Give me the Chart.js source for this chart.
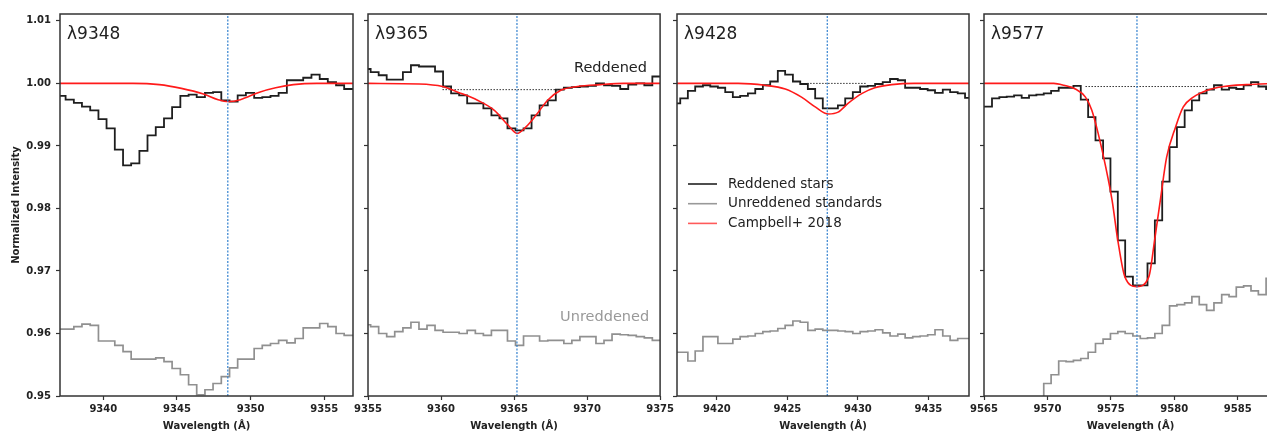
<!DOCTYPE html>
<html>
<head>
<meta charset="utf-8">
<script src="https://cdn.jsdelivr.net/npm/chart.js@4.4.1/dist/chart.umd.min.js"></script>
<style>
  html, body { margin: 0; padding: 0; background: #fff; overflow: hidden; }
  #wrap { position: relative; width: 1267px; height: 433px; overflow: hidden; }
  canvas { position: absolute; top: 0; }
</style>
</head>
<body>
<div id="wrap">
  <canvas id="p1" width="369" height="433" style="left:0px"></canvas>
  <canvas id="p2" width="327" height="433" style="left:350px"></canvas>
  <canvas id="p3" width="326" height="433" style="left:659px"></canvas>
  <canvas id="p4" width="327" height="433" style="left:966px"></canvas>
</div>
<script>
// ---- data ----
var yTicks = [0.95, 0.96, 0.97, 0.98, 0.99, 1.00, 1.01];
var legendLabels = ['Reddened stars', 'Unreddened standards', 'Campbell+ 2018'];

// λ9348
var wl1 = [9337.06, 9337.44, 9338.00, 9338.55, 9339.11, 9339.67, 9340.22, 9340.78, 9341.34, 9341.89,
  9342.45, 9343.00, 9343.56, 9344.12, 9344.67, 9345.23, 9345.79, 9346.34, 9346.90, 9347.45,
  9348.01, 9348.57, 9349.12, 9349.68, 9350.24, 9350.79, 9351.35, 9351.90, 9352.46, 9353.02,
  9353.57, 9354.13, 9354.69, 9355.24, 9355.80, 9356.35, 9356.95];
var red1 = [0.9980, 0.9974, 0.9969, 0.9963, 0.9957, 0.9943, 0.9928, 0.9894, 0.9869, 0.9872,
  0.9892, 0.9917, 0.9930, 0.9944, 0.9962, 0.9980, 0.9982, 0.9978, 0.9985, 0.9986,
  0.9973, 0.9971, 0.9981, 0.9985, 0.9977, 0.9978, 0.9980, 0.9985, 1.0005, 1.0005,
  1.0009, 1.0014, 1.0007, 1.0002, 0.9997, 0.9991];
var std1 = [0.9607, 0.9607, 0.9611, 0.9615, 0.9613, 0.9588, 0.9588, 0.9581, 0.9571, 0.9559,
  0.9559, 0.9559, 0.9561, 0.9555, 0.9544, 0.9534, 0.9518, 0.9502, 0.9510, 0.9520,
  0.9531, 0.9545, 0.9559, 0.9559, 0.9576, 0.9581, 0.9584, 0.9589, 0.9585, 0.9592,
  0.9609, 0.9609, 0.9616, 0.9611, 0.9600, 0.9597];
var fitX1 = [9337.06, 9342.0, 9343.8, 9345.3, 9346.8, 9347.8, 9348.5, 9349.3, 9350.6, 9351.7, 9352.9, 9354.5, 9356.95];
var fitY1 = [1.0, 1.0, 0.9998, 0.9992, 0.9983, 0.9974, 0.9971, 0.9974, 0.9986, 0.9993, 0.9998, 1.0, 1.0];
var xTicks1 = [9340, 9345, 9350, 9355];

// λ9365
var wl2 = [9355.00, 9355.18, 9355.73, 9356.28, 9356.83, 9357.39, 9357.94, 9358.49, 9359.04, 9359.59,
  9360.14, 9360.69, 9361.24, 9361.79, 9362.35, 9362.90, 9363.45, 9364.00, 9364.55, 9365.10,
  9365.65, 9366.20, 9366.75, 9367.31, 9367.86, 9368.41, 9368.96, 9369.51, 9370.06, 9370.61,
  9371.16, 9371.71, 9372.27, 9372.82, 9373.37, 9373.92, 9374.47, 9375.00];
var red2 = [1.0023, 1.0018, 1.0013, 1.0006, 1.0006, 1.0018, 1.0029, 1.0027, 1.0027, 1.0019,
  0.9995, 0.9984, 0.9981, 0.9968, 0.9968, 0.9960, 0.9949, 0.9944, 0.9928, 0.9925,
  0.9928, 0.9949, 0.9965, 0.9973, 0.9990, 0.9993, 0.9994, 0.9995, 0.9996, 1.0000,
  0.9997, 0.9996, 0.9991, 0.9998, 1.0000, 0.9997, 1.0011];
var std2 = [0.9614, 0.9611, 0.9600, 0.9595, 0.9603, 0.9609, 0.9618, 0.9607, 0.9613, 0.9605,
  0.9602, 0.9602, 0.9600, 0.9605, 0.9600, 0.9597, 0.9605, 0.9605, 0.9588, 0.9581,
  0.9596, 0.9596, 0.9588, 0.9589, 0.9589, 0.9584, 0.9589, 0.9595, 0.9595, 0.9584,
  0.9589, 0.9599, 0.9598, 0.9597, 0.9595, 0.9593, 0.9589];
var fitX2 = [9355, 9358.5, 9360.1, 9361.15, 9362.5, 9363.65, 9364.6, 9365.2, 9365.8, 9366.5, 9367.3, 9368.2, 9369.35, 9370.9, 9372.5, 9375];
var fitY2 = [1.0, 0.9999, 0.9995, 0.9986, 0.9973, 0.9957, 0.9933, 0.9920, 0.9930, 0.9949, 0.9973, 0.9989, 0.9995, 0.9998, 1.0, 1.0];
var xTicks2 = [9355, 9360, 9365, 9370, 9375];

// λ9428
var wl3 = [9417.17, 9417.40, 9417.94, 9418.46, 9419.01, 9419.53, 9420.07, 9420.59, 9421.13, 9421.65,
  9422.20, 9422.72, 9423.26, 9423.78, 9424.32, 9424.84, 9425.39, 9425.91, 9426.45, 9426.97,
  9427.51, 9428.03, 9428.58, 9429.10, 9429.64, 9430.16, 9430.70, 9431.22, 9431.76, 9432.28,
  9432.83, 9433.35, 9433.89, 9434.41, 9434.95, 9435.47, 9436.02, 9436.54, 9437.08, 9437.60, 9437.88];
var red3 = [0.9968, 0.9976, 0.9988, 0.9995, 0.9997, 0.9995, 0.9993, 0.9986, 0.9978, 0.9980,
  0.9984, 0.9991, 0.9997, 1.0003, 1.0020, 1.0014, 1.0003, 0.9999, 0.9991, 0.9976,
  0.9960, 0.9960, 0.9965, 0.9976, 0.9986, 0.9995, 0.9996, 0.9999, 1.0002, 1.0007,
  1.0005, 0.9993, 0.9993, 0.9991, 0.9989, 0.9985, 0.9990, 0.9986, 0.9984, 0.9977];
var std3 = [0.9570, 0.9570, 0.9556, 0.9572, 0.9595, 0.9595, 0.9584, 0.9584, 0.9591, 0.9595,
  0.9596, 0.9600, 0.9603, 0.9604, 0.9608, 0.9613, 0.9620, 0.9618, 0.9605, 0.9607,
  0.9605, 0.9605, 0.9604, 0.9603, 0.9600, 0.9603, 0.9604, 0.9606, 0.9601, 0.9596,
  0.9599, 0.9593, 0.9595, 0.9596, 0.9598, 0.9606, 0.9596, 0.9589, 0.9592, 0.9592];
var fitX3 = [9417.17, 9421.5, 9423.4, 9424.85, 9426.0, 9427.0, 9427.9, 9428.6, 9429.3, 9430.3, 9431.2, 9432.4, 9434, 9437.88];
var fitY3 = [1.0, 1.0, 0.9997, 0.9991, 0.9978, 0.9962, 0.9951, 0.9954, 0.9968, 0.9984, 0.9993, 0.9998, 1.0, 1.0];
var xTicks3 = [9420, 9425, 9430, 9435];

// λ9577
var wl4 = [9565.00, 9565.63, 9566.21, 9566.79, 9567.37, 9567.97, 9568.55, 9569.13, 9569.71, 9570.29,
  9570.89, 9571.47, 9572.05, 9572.63, 9573.21, 9573.79, 9574.39, 9574.97, 9575.55, 9576.13,
  9576.74, 9577.32, 9577.89, 9578.47, 9579.05, 9579.63, 9580.21, 9580.82, 9581.39, 9581.97,
  9582.55, 9583.13, 9583.74, 9584.32, 9584.89, 9585.47, 9586.05, 9586.63, 9587.24, 9588.10];
var red4 = [0.9963, 0.9976, 0.9978, 0.9979, 0.9981, 0.9977, 0.9981, 0.9982, 0.9984, 0.9988,
  0.9993, 0.9993, 0.9996, 0.9974, 0.9946, 0.9909, 0.9880, 0.9827, 0.9749, 0.9691,
  0.9677, 0.9677, 0.9712, 0.9781, 0.9843, 0.9898, 0.9930, 0.9957, 0.9973, 0.9984,
  0.9990, 0.9997, 0.9990, 0.9993, 0.9991, 0.9997, 1.0002, 0.9995, 0.9991];
var std4 = [null, null, null, null, null, null, null, 0.9480, 0.9520, 0.9534,
  0.9556, 0.9555, 0.9557, 0.9560, 0.9570, 0.9584, 0.9591, 0.9600, 0.9603, 0.9600,
  0.9596, 0.9592, 0.9593, 0.9600, 0.9613, 0.9644, 0.9646, 0.9649, 0.9659, 0.9646,
  0.9637, 0.9649, 0.9662, 0.9659, 0.9674, 0.9676, 0.9668, 0.9662, 0.9688];
var fitX4 = [9565, 9570.5, 9571.3, 9572.2, 9573.0, 9573.5, 9574.0, 9574.6, 9575.1, 9575.55, 9576.1, 9577.05,
  9578.0, 9578.45, 9578.9, 9579.4, 9580.1, 9580.7, 9581.5, 9582.6, 9583.9, 9585.7, 9588.1];
var fitY4 = [1.0, 1.0, 0.9997, 0.9991, 0.9978, 0.9957, 0.9920, 0.9866, 0.9813, 0.9749, 0.9691, 0.9675,
  0.9691, 0.9749, 0.9813, 0.9882, 0.9930, 0.9962, 0.9978, 0.9989, 0.9995, 0.9998, 1.0];
var xTicks4 = [9565, 9570, 9575, 9580, 9585];

// ---- helpers ----
function steps(edges, vals) {
  return edges.map(function (x, i) { return { x: x, y: vals[Math.min(i, vals.length - 1)] }; });
}
function pairs(xs, ys) {
  return xs.map(function (x, i) { return { x: x, y: ys[i] }; });
}

var tickFont = { family: 'DejaVu Sans', size: 10, weight: 'bold' };

var panelDecor = {
  id: 'panelDecor',
  afterDraw: function (chart, args, o) {
    var ctx = chart.ctx, a = chart.chartArea, x = chart.scales.x, y = chart.scales.y;
    ctx.save();
    ctx.strokeStyle = '#333';
    ctx.lineWidth = 1.5;
    ctx.strokeRect(a.left, a.top, a.right - a.left, a.bottom - a.top);

    ctx.fillStyle = '#222';
    ctx.font = '17px "DejaVu Sans"';
    ctx.textAlign = 'left';
    ctx.textBaseline = 'alphabetic';
    ctx.fillText(o.label, a.left + 7, a.top + 25);

    (o.notes || []).forEach(function (n) {
      ctx.fillStyle = n.color;
      ctx.font = '14.5px "DejaVu Sans"';
      ctx.textAlign = 'right';
      ctx.fillText(n.text, x.getPixelForValue(n.x), y.getPixelForValue(n.y));
    });

    if (o.legend) {
      var cols = ['#222', '#999', '#ff5a5a'];
      ctx.font = '13.5px "DejaVu Sans"';
      ctx.textAlign = 'left';
      ctx.textBaseline = 'middle';
      legendLabels.forEach(function (t, i) {
        var ly = a.top + 170 + i * 19.7;
        ctx.strokeStyle = cols[i];
        ctx.lineWidth = 1.6;
        ctx.beginPath();
        ctx.moveTo(a.left + 11, ly);
        ctx.lineTo(a.left + 40, ly);
        ctx.stroke();
        ctx.fillStyle = '#222';
        ctx.fillText(t, a.left + 51, ly);
      });
    }
    ctx.restore();
  }
};

function makePanel(id, p) {
  var datasets = [
    { data: steps(p.wl, p.std), stepped: true, borderColor: '#909090', borderWidth: 1.7, pointRadius: 0, order: 4 },
    { data: steps(p.wl, p.red), stepped: true, borderColor: '#1e1e1e', borderWidth: 1.8, pointRadius: 0, order: 3 },
    { data: pairs(p.fitX, p.fitY), borderColor: '#ff1a1a', borderWidth: 1.6, pointRadius: 0,
      cubicInterpolationMode: 'monotone', order: 1 },
    { data: [{ x: p.center, y: 0.95 }, { x: p.center, y: 1.0111 }], borderColor: 'rgba(45,125,205,0.9)',
      borderWidth: 1.3, borderDash: [2, 1.5], pointRadius: 0, order: 0 }
  ];
  if (p.contX) {
    datasets.push({ data: pairs(p.contX, p.contY), borderColor: '#333', borderWidth: 1,
      borderDash: [1.5, 1.5], pointRadius: 0, order: 2 });
  }
  return new Chart(document.getElementById(id), {
    type: 'line',
    data: { datasets: datasets },
    options: {
      responsive: false,
      animation: false,
      devicePixelRatio: 1,
      layout: { padding: { top: 14, right: 16, left: 0, bottom: 0 } },
      plugins: {
        legend: { display: false },
        tooltip: { enabled: false },
        panelDecor: { label: p.label, notes: p.notes || [], legend: !!p.legend }
      },
      scales: {
        x: {
          type: 'linear', min: p.wl[0], max: p.wl[p.wl.length - 1],
          afterBuildTicks: function (s) { s.ticks = p.xTicks.map(function (v) { return { value: v }; }); },
          afterFit: function (s) { s.height = 37; },
          grid: { drawOnChartArea: false, tickLength: 4, tickColor: '#333', tickWidth: 1.2 },
          border: { display: false },
          ticks: { font: tickFont, color: '#222', padding: 3, maxRotation: 0, autoSkip: false,
            callback: function (v) { return String(v); } },
          title: { display: true, text: 'Wavelength (Å)', font: tickFont, color: '#222',
            padding: { top: 0, bottom: 1 } }
        },
        y: {
          min: 0.95, max: 1.0111,
          afterBuildTicks: function (s) { s.ticks = yTicks.map(function (v) { return { value: v }; }); },
          afterFit: function (s) { s.width = p.yWidth; },
          grid: { drawOnChartArea: false, tickLength: 4, tickColor: '#333', tickWidth: 1.2 },
          border: { display: false },
          ticks: { display: p.yLabels, font: tickFont, color: '#222', padding: 5,
            callback: function (v) { return v.toFixed(2); } },
          title: { display: p.yLabels, text: 'Normalized Intensity', font: tickFont, color: '#222',
            padding: { top: 10, bottom: 0 } }
        }
      }
    },
    plugins: [panelDecor]
  });
}

makePanel('p1', { wl: wl1, red: red1, std: std1, fitX: fitX1, fitY: fitY1, xTicks: xTicks1,
  center: 9348.45, label: 'λ9348', yWidth: 60, yLabels: true });
makePanel('p2', { wl: wl2, red: red2, std: std2, fitX: fitX2, fitY: fitY2, xTicks: xTicks2,
  center: 9365.2, label: 'λ9365', yWidth: 18, yLabels: false,
  contX: [9360.1, 9368.5], contY: [0.999, 0.999],
  notes: [{ text: 'Reddened', x: 9374.1, y: 1.0019, color: '#222' },
          { text: 'Unreddened', x: 9374.25, y: 0.962, color: '#999' }] });
makePanel('p3', { wl: wl3, red: red3, std: std3, fitX: fitX3, fitY: fitY3, xTicks: xTicks3,
  center: 9427.83, label: 'λ9428', yWidth: 18, yLabels: false,
  contX: [9426.4, 9430.6], contY: [1.0, 1.0], legend: true });
makePanel('p4', { wl: wl4, red: red4, std: std4, fitX: fitX4, fitY: fitY4, xTicks: xTicks4,
  center: 9577.06, label: 'λ9577', yWidth: 18, yLabels: false,
  contX: [9573.0, 9582.6], contY: [0.9995, 0.9995] });
</script>
</body>
</html>
